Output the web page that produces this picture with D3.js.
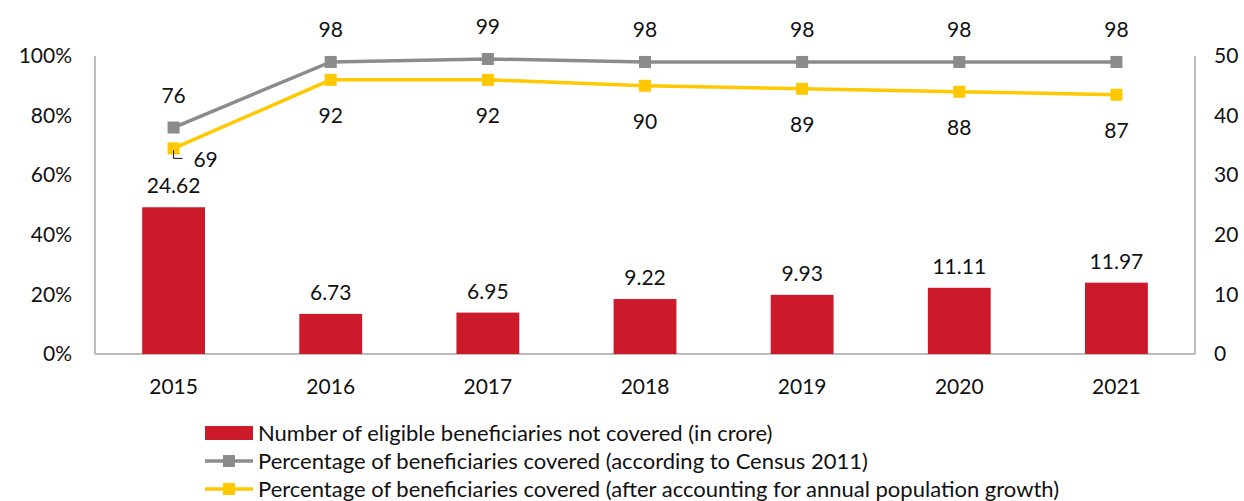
<!DOCTYPE html>
<html>
<head>
<meta charset="utf-8">
<script src="https://cdn.jsdelivr.net/npm/d3@7"></script>
<style>
	body { margin: 0; background: #fff; }
	text { font-family: Lato, "Open Sans", sans-serif; fill: #111; }
</style>
</head>
<body>
<div id="chart"></div>
<script>
// data
var years = ["2015", "2016", "2017", "2018", "2019", "2020", "2021"];
var notCovered = [24.62, 6.73, 6.95, 9.22, 9.93, 11.11, 11.97];
var censusPct = [76, 98, 99, 98, 98, 98, 98];
var growthPct = [69, 92, 92, 90, 89, 88, 87];
var leftTicks = [0, 20, 40, 60, 80, 100];
var rightTicks = [0, 10, 20, 30, 40, 50];
var legendLabels = [
	"Number of eligible beneficiaries not covered (in crore)",
	"Percentage of beneficiaries covered (according to Census 2011)",
	"Percentage of beneficiaries covered (after accounting for annual population growth)"
];

var W = 1244, H = 501;
var plot = { left: 95, right: 1195, top: 56, bottom: 354 };

var red = "#cd1a2b", grey = "#8b8b8b", yellow = "#ffc800", axisCol = "#a6a6a6";

var svg = d3.select("#chart").append("svg")
	.attr("width", W)
	.attr("height", H);

var x = d3.scaleBand().domain(years).range([plot.left, plot.right]).paddingInner(0.6).paddingOuter(0.3);
var xc = function(d) { return x(d) + x.bandwidth() / 2; };
var yL = d3.scaleLinear().domain([0, 100]).range([plot.bottom, plot.top]);
var yR = d3.scaleLinear().domain([0, 50]).range([plot.bottom, plot.top]);

// axes
var leftAxis = svg.append("g")
	.attr("transform", "translate(" + plot.left + ",0)")
	.call(d3.axisLeft(yL).tickValues(leftTicks).tickSize(0).tickPadding(23).tickFormat(function(d) { return d + "%"; }));
var rightAxis = svg.append("g")
	.attr("transform", "translate(" + plot.right + ",0)")
	.call(d3.axisRight(yR).tickValues(rightTicks).tickSize(0).tickPadding(19));
var bottomAxis = svg.append("g")
	.attr("transform", "translate(0," + plot.bottom + ")")
	.call(d3.axisBottom(x).tickSize(0).tickPadding(25));

[leftAxis, rightAxis, bottomAxis].forEach(function(a) {
	a.select(".domain").attr("stroke", axisCol).attr("stroke-width", 1.5);
	a.selectAll("text").style("font-size", "21px").attr("fill", "#111");
});
leftAxis.select(".domain").attr("d", "M0," + plot.top + "V" + plot.bottom);
rightAxis.select(".domain").attr("d", "M0," + plot.top + "V" + plot.bottom);
bottomAxis.select(".domain").attr("d", "M" + plot.left + ",0H" + plot.right);

// bars
svg.selectAll("rect.bar")
	.data(notCovered)
	.enter()
	.append("rect")
	.attr("class", "bar")
	.attr("x", function(d, i) { return x(years[i]); })
	.attr("width", x.bandwidth())
	.attr("y", function(d) { return yR(d); })
	.attr("height", function(d) { return plot.bottom - yR(d); })
	.attr("fill", red);

svg.selectAll("text.barlabel")
	.data(notCovered)
	.enter()
	.append("text")
	.attr("class", "barlabel")
	.attr("x", function(d, i) { return xc(years[i]); })
	.attr("y", function(d) { return yR(d) - 14; })
	.attr("text-anchor", "middle")
	.style("font-size", "21px")
	.text(function(d) { return d.toFixed(2); });

// lines
function drawSeries(values, colour) {
	var line = d3.line()
		.x(function(d, i) { return xc(years[i]); })
		.y(function(d) { return yL(d); });
	svg.append("path")
		.datum(values)
		.attr("d", line)
		.attr("fill", "none")
		.attr("stroke", colour)
		.attr("stroke-width", 3.5);
	svg.selectAll(null)
		.data(values)
		.enter()
		.append("rect")
		.attr("x", function(d, i) { return xc(years[i]) - 6; })
		.attr("y", function(d) { return yL(d) - 6; })
		.attr("width", 12)
		.attr("height", 12)
		.attr("fill", colour);
}
drawSeries(censusPct, grey);
drawSeries(growthPct, yellow);

svg.selectAll("text.census")
	.data(censusPct)
	.enter()
	.append("text")
	.attr("class", "census")
	.attr("x", function(d, i) { return xc(years[i]); })
	.attr("y", function(d) { return yL(d) - 25; })
	.attr("text-anchor", "middle")
	.style("font-size", "21px")
	.text(function(d) { return d; });

svg.selectAll("text.growth")
	.data(growthPct)
	.enter()
	.append("text")
	.attr("class", "growth")
	.attr("x", function(d, i) { return i === 0 ? xc(years[i]) + 32 : xc(years[i]); })
	.attr("y", function(d, i) { return i === 0 ? yL(d) + 19 : yL(d) + 43; })
	.attr("text-anchor", "middle")
	.style("font-size", "21px")
	.text(function(d) { return d; });

// leader line for the first yellow label
var lx = xc(years[0]), ly = yL(growthPct[0]);
svg.append("path")
	.attr("d", "M" + lx + "," + (ly + 2) + "V" + (ly + 10) + "H" + (lx + 9))
	.attr("fill", "none")
	.attr("stroke", "#111")
	.attr("stroke-width", 1);

// legend
var lg = svg.append("g").attr("transform", "translate(205,0)");
var rowsY = [433, 461, 489];
lg.append("rect").attr("x", 0).attr("y", rowsY[0] - 7).attr("width", 48).attr("height", 14).attr("fill", red);
[grey, yellow].forEach(function(c, i) {
	var yy = rowsY[i + 1];
	lg.append("line").attr("x1", 0).attr("x2", 48).attr("y1", yy).attr("y2", yy)
		.attr("stroke", c).attr("stroke-width", 3.5);
	lg.append("rect").attr("x", 18).attr("y", yy - 6).attr("width", 12).attr("height", 12).attr("fill", c);
});
lg.selectAll("text")
	.data(legendLabels)
	.enter()
	.append("text")
	.attr("x", 53)
	.attr("y", function(d, i) { return rowsY[i]; })
	.attr("dy", "0.35em")
	.style("font-size", "22px")
	.text(function(d) { return d; });
</script>
</body>
</html>
